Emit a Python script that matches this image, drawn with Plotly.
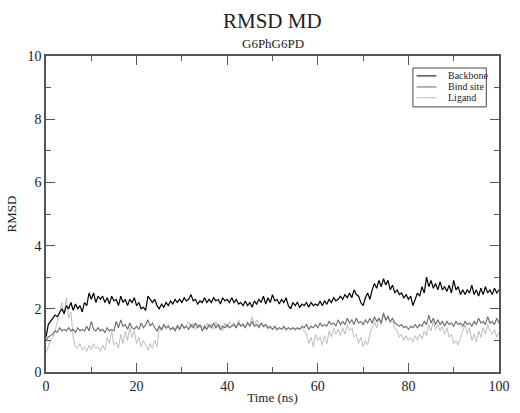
import plotly.graph_objects as go

# ---------------- data ----------------
time_ns = [i * 0.5 for i in range(201)]

backbone = [
    1.1, 1.5, 1.6, 1.7, 1.8, 1.75, 1.9, 2.0, 1.85, 2.1, 2.0, 2.2, 1.95, 2.15, 2.0, 2.1, 1.9, 2.2, 2.1, 2.5,
    2.3, 2.5, 2.2, 2.4, 2.3, 2.4, 2.2, 2.35, 2.15, 2.4, 2.25, 2.3, 2.1, 2.4, 2.2, 2.3, 2.1, 2.3, 2.2, 2.35,
    2.1, 2.2, 2.0, 2.05, 1.95, 2.4, 2.3, 2.2, 2.3, 2.1, 2.0, 2.15, 2.05, 2.2, 2.1, 2.25, 2.15, 2.3, 2.2, 2.3,
    2.2, 2.35, 2.25, 2.3, 2.45, 2.25, 2.3, 2.15, 2.25, 2.2, 2.35, 2.2, 2.3, 2.2, 2.35, 2.25, 2.3, 2.15, 2.35, 2.25,
    2.3, 2.2, 2.35, 2.2, 2.3, 2.15, 2.2, 2.1, 2.25, 2.1, 2.2, 2.05, 2.25, 2.15, 2.3, 2.2, 2.4, 2.15, 2.35, 2.2,
    2.45, 2.25, 2.3, 2.15, 2.3, 2.2, 2.35, 2.1, 2.0, 2.2, 2.1, 2.2, 2.05, 2.15, 2.1, 2.2, 2.05, 2.2, 2.1, 2.15,
    2.1, 2.25, 2.1, 2.25, 2.15, 2.3, 2.2, 2.35, 2.25, 2.3, 2.4, 2.3, 2.45, 2.35, 2.5, 2.35, 2.6, 2.45, 2.4, 2.2,
    2.1, 2.35, 2.5, 2.3, 2.6, 2.8, 2.65, 2.9, 2.7, 2.95, 2.75, 2.9, 2.6, 2.75, 2.5, 2.6, 2.45, 2.5, 2.35, 2.45,
    2.3, 2.4, 2.1, 2.3, 2.5, 2.4, 2.7, 2.5, 3.0, 2.7, 2.9, 2.65, 2.8, 2.6, 2.85, 2.6, 2.7, 2.55, 2.75, 2.5,
    2.9, 2.6, 2.7, 2.45, 2.6, 2.45, 2.6, 2.5, 2.75, 2.45, 2.6, 2.4, 2.65, 2.45, 2.7, 2.5, 2.6, 2.45, 2.65, 2.5,
    2.6,
]

bind_site = [
    1.0, 1.1, 1.15, 1.2, 1.3, 1.25, 1.4, 1.3, 1.35, 1.3, 1.4, 1.3, 1.35, 1.25, 1.4, 1.3, 1.35, 1.3, 1.45, 1.3,
    1.6, 1.35, 1.3, 1.4, 1.3, 1.35, 1.25, 1.4, 1.3, 1.35, 1.3, 1.6, 1.4, 1.65, 1.45, 1.5, 1.35, 1.55, 1.4, 1.35,
    1.45, 1.35, 1.55, 1.4, 1.5, 1.65, 1.45, 1.55, 1.4, 1.3, 1.45, 1.35, 1.5, 1.4, 1.45, 1.35, 1.4, 1.3, 1.45, 1.35,
    1.5, 1.4, 1.45, 1.35, 1.5, 1.4, 1.55, 1.4, 1.5, 1.3, 1.45, 1.35, 1.5, 1.4, 1.55, 1.4, 1.5, 1.35, 1.45, 1.4,
    1.5, 1.4, 1.45, 1.5, 1.4, 1.55, 1.45, 1.5, 1.4, 1.55, 1.45, 1.6, 1.45, 1.5, 1.4, 1.55, 1.45, 1.5, 1.4, 1.45,
    1.35, 1.45, 1.35, 1.4, 1.35, 1.45, 1.35, 1.4, 1.35, 1.4, 1.35, 1.4, 1.35, 1.45, 1.4, 1.5, 1.35, 1.45, 1.4, 1.5,
    1.4, 1.55, 1.45, 1.5, 1.45, 1.6, 1.5, 1.55, 1.45, 1.65, 1.5, 1.6, 1.5, 1.7, 1.55, 1.65, 1.5, 1.7, 1.55, 1.6,
    1.5, 1.65, 1.55, 1.7, 1.55, 1.75, 1.6, 1.7, 1.55, 1.85, 1.65, 1.75, 1.6, 1.7, 1.55, 1.5, 1.45, 1.5, 1.4, 1.45,
    1.35, 1.45, 1.4, 1.5, 1.4, 1.5, 1.45, 1.6, 1.5, 1.8, 1.55, 1.7, 1.5, 1.65, 1.5, 1.6, 1.45, 1.6, 1.5, 1.55,
    1.45, 1.6, 1.5, 1.55, 1.45, 1.6, 1.5, 1.55, 1.45, 1.6, 1.5, 1.7, 1.55, 1.6, 1.5, 1.75, 1.55, 1.6, 1.5, 1.7,
    1.55,
]

ligand = [
    0.6, 0.8, 1.0, 1.1, 1.3, 1.6, 1.9, 2.2, 1.8, 2.35, 1.7, 1.9, 1.1, 0.8, 0.75, 0.9, 0.7, 0.8, 0.65, 0.85,
    0.7, 0.9, 0.75, 0.8, 0.65, 0.85, 0.7, 1.1, 0.9, 1.3, 0.85, 0.95, 0.75, 1.2, 0.9, 1.3, 1.0, 1.4, 1.1, 1.3,
    0.9, 1.1, 0.8, 1.0, 0.85, 0.7, 0.9, 0.75, 1.0, 0.8, 1.4, 1.3, 1.45, 1.35, 1.5, 1.3, 1.45, 1.35, 1.5, 1.4,
    1.55, 1.35, 1.5, 1.6, 1.4, 1.55, 1.35, 1.5, 1.4, 1.45, 1.35, 1.55, 1.4, 1.5, 1.35, 1.6, 1.4, 1.5, 1.3, 1.55,
    1.4, 1.6, 1.45, 1.55, 1.4, 1.65, 1.45, 1.55, 1.4, 1.6, 1.45, 1.75, 1.5, 1.65, 1.45, 1.55, 1.4, 1.5, 1.35, 1.4,
    1.35, 1.4, 1.3, 1.4, 1.35, 1.4, 1.3, 1.4, 1.35, 1.4, 1.3, 1.4, 1.35, 1.4, 1.3, 1.2, 0.9, 1.1, 0.8, 1.2,
    1.0, 1.1, 0.85, 1.15, 0.9, 1.3, 1.1, 1.4, 1.2, 1.35, 1.15, 1.4, 1.2, 1.5, 1.3, 1.4, 1.1, 1.2, 0.9, 1.1,
    0.8, 1.0, 0.85, 1.2, 1.4, 1.6, 1.4, 1.7, 1.5, 1.9, 1.6, 1.8, 1.55, 1.6, 1.4, 1.3, 1.1, 1.2, 1.0, 1.15,
    1.0, 1.1, 0.95, 1.15, 1.0, 1.2, 1.05, 1.3, 1.15, 1.5, 1.3, 1.6, 1.35, 1.5, 1.3, 1.45, 1.2, 1.4, 1.1, 1.2,
    0.9, 1.0, 0.85, 1.1, 1.3, 1.5, 1.2, 1.4, 1.0, 1.2, 0.95, 1.3, 1.1, 1.4, 1.2, 1.5, 1.3, 1.2, 1.35, 1.1,
    1.25,
]

series_names = ["Backbone", "Bind site", "Ligand"]
series_values = [backbone, bind_site, ligand]
series_colors = ["#000000", "#6a6a6a", "#bdbdbd"]
series_widths = [1.2, 1.1, 1.0]

x_ticks = [0, 20, 40, 60, 80, 100]
y_ticks = [0, 2, 4, 6, 8, 10]

FONT = "Liberation Serif"
AXIS_COL = "#555555"
TXT_COL = "#222222"

fig = go.Figure()
# draw ligand first so darker lines sit on top
for name, vals, col, w in reversed(list(zip(series_names, series_values, series_colors, series_widths))):
    fig.add_trace(go.Scatter(x=time_ns, y=vals, mode="lines", name=name,
                             line=dict(color=col, width=w), showlegend=False))

axis_common = dict(
    showgrid=False, zeroline=False, showline=True, linecolor=AXIS_COL, linewidth=1.5,
    mirror="ticks", ticks="inside", ticklen=9, tickwidth=1, tickcolor=AXIS_COL,
    tickfont=dict(family=FONT, size=14, color=TXT_COL),
    minor=dict(ticks="inside", ticklen=5, tickwidth=1, tickcolor=AXIS_COL),
)

fig.update_xaxes(range=[0, 100], tickvals=x_ticks, minor_dtick=10,
                 title=dict(text="Time (ns)", font=dict(family=FONT, size=13, color=TXT_COL), standoff=0),
                 **axis_common)
fig.update_yaxes(range=[0, 10], tickvals=y_ticks, minor_dtick=1,
                 title=dict(text="RMSD", font=dict(family=FONT, size=13, color=TXT_COL), standoff=8),
                 **axis_common)

# manual legend (Grace style)
lg_x0, lg_x1, lg_y0, lg_y1 = 0.81, 0.972, 0.839, 0.962
shapes = [dict(type="rect", xref="paper", yref="paper", x0=lg_x0, x1=lg_x1, y0=lg_y0, y1=lg_y1,
               line=dict(color="#444444", width=1), fillcolor="white")]
annotations = []
row_y = [0.937, 0.902, 0.868]
for name, col, yy in zip(series_names, series_colors, row_y):
    shapes.append(dict(type="line", xref="paper", yref="paper", x0=0.818, x1=0.862, y0=yy, y1=yy,
                       line=dict(color=col, width=1)))
    annotations.append(dict(xref="paper", yref="paper", x=0.882, y=yy, text=name, showarrow=False,
                            xanchor="left", yanchor="middle",
                            font=dict(family=FONT, size=10, color=TXT_COL)))

annotations.append(dict(xref="paper", yref="paper", x=0.5, y=1.0, yshift=35, text="RMSD MD",
                        showarrow=False, xanchor="center", yanchor="middle",
                        font=dict(family=FONT, size=21, color=TXT_COL)))
annotations.append(dict(xref="paper", yref="paper", x=0.5, y=1.0, yshift=13, text="G6PhG6PD",
                        showarrow=False, xanchor="center", yanchor="middle",
                        font=dict(family=FONT, size=13, color=TXT_COL)))

fig.update_layout(
    width=520, height=413,
    margin=dict(l=42, r=10, t=56, b=30),
    paper_bgcolor="white", plot_bgcolor="white",
    shapes=shapes, annotations=annotations,
    showlegend=False,
)

fig.write_html("out.html")
